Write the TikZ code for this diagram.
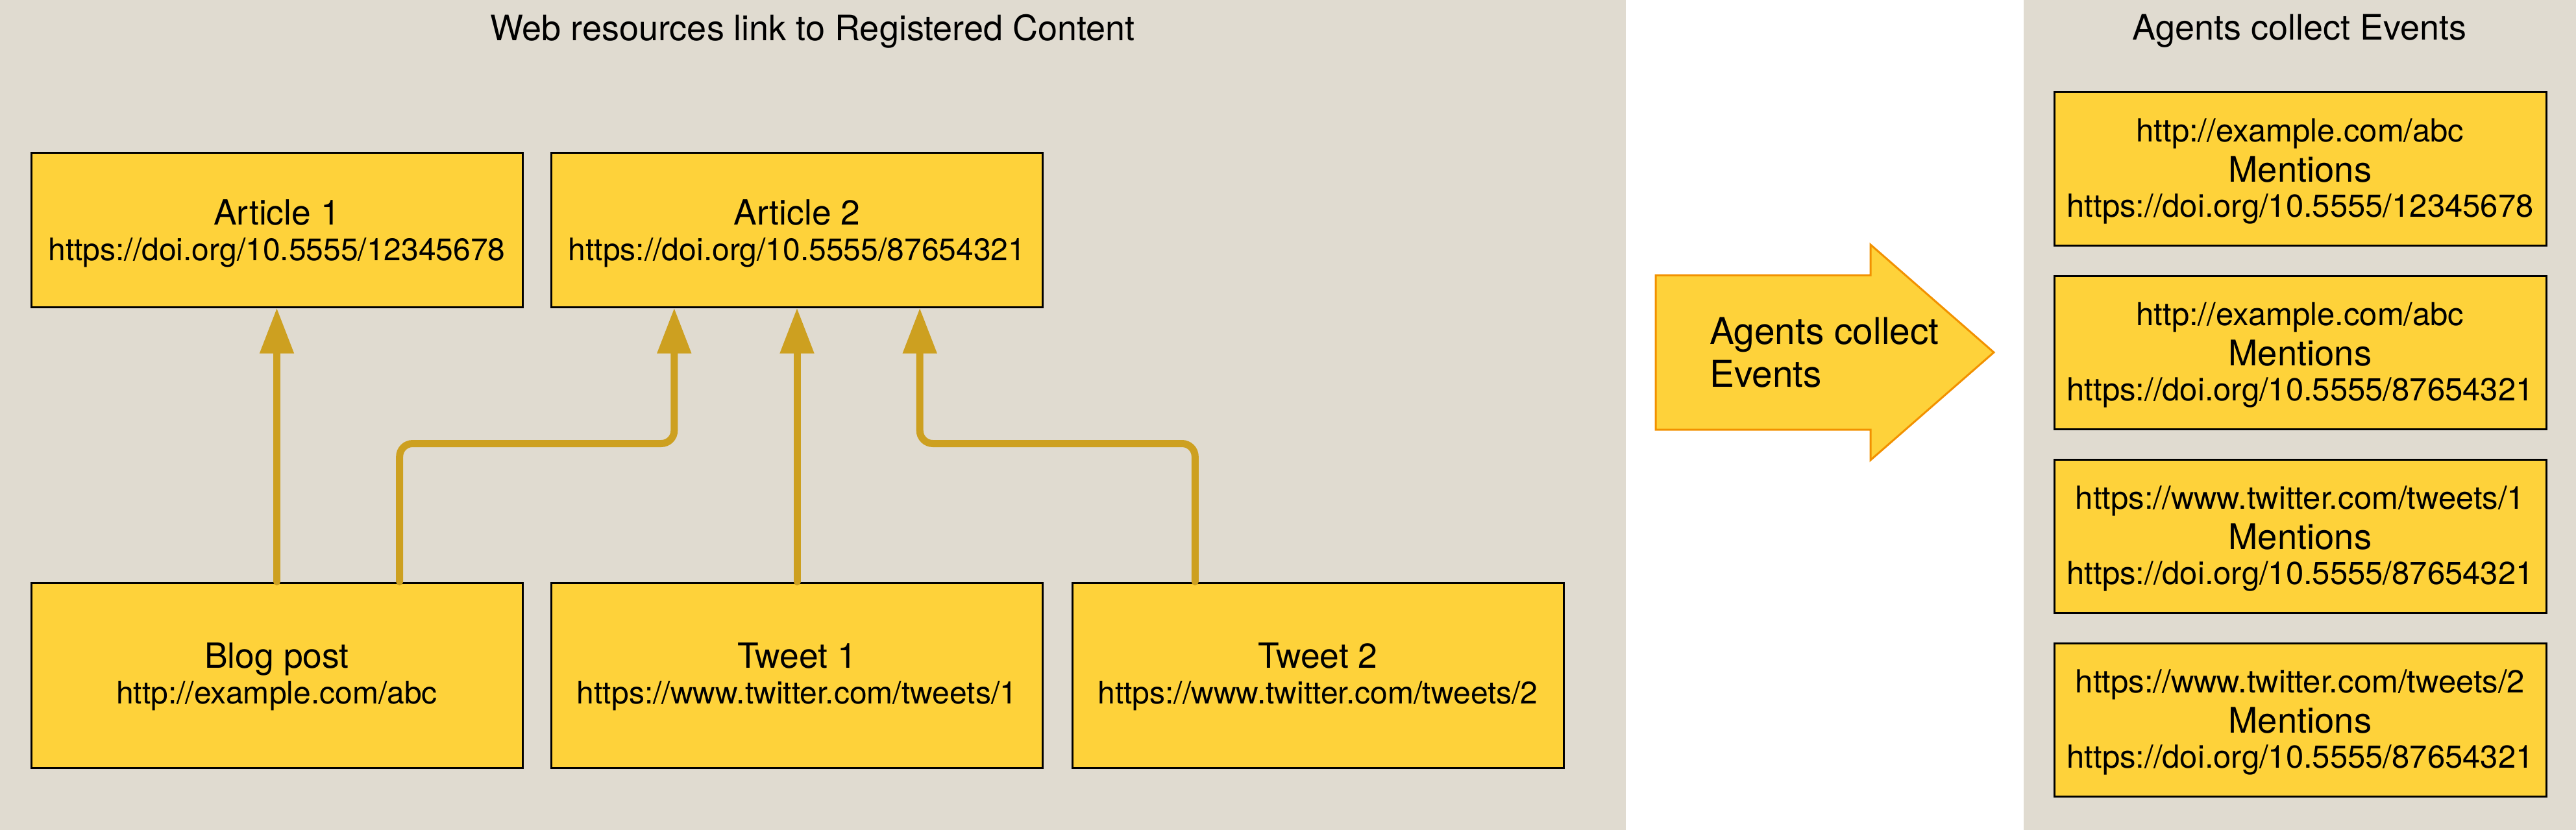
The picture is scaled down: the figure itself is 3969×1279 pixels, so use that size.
\documentclass[tikz,border=0pt]{standalone}
\usepackage{fontspec}
\setmainfont{TeX Gyre Heros}
\usetikzlibrary{arrows.meta,calc}
\definecolor{panelbg}{HTML}{E0DBD0}
\definecolor{boxfill}{HTML}{FED23A}
\definecolor{linkcol}{HTML}{CDA020}
\definecolor{arrowedge}{HTML}{F29100}
\newcommand\boxhead[2][25pt]{{\fontsize{26.7}{27}\selectfont\rule{0pt}{#1}#2}}
\newcommand\evthead[1]{\rule{0pt}{22pt}#1}
\newcommand\mentword{{\fontsize{27.2}{27}\selectfont Mentions}}
\begin{document}
\begin{tikzpicture}[x=0.5pt,y=-0.5pt,
  box/.style={draw=black, line width=1.5pt, fill=boxfill, align=center, inner sep=0pt,
    minimum width=378.5pt, font=\fontsize{24}{27.5}\selectfont},
  toprow/.style={box, minimum height=119pt},
  botrow/.style={box, minimum height=142.5pt},
  evt/.style={box, minimum height=118pt, minimum width=379pt, font=\fontsize{24.5}{27}\selectfont},
  link/.style={draw=linkcol, line width=5.5pt, line cap=round, rounded corners=10pt,
    -{Triangle[length=35pt,width=25pt]}},
  paneltitle/.style={font=\fontsize{27}{30}\selectfont, inner sep=0pt},
  bigarrow/.style={draw=arrowedge, line width=1.5pt, fill=boxfill, line join=miter}]
\useasboundingbox (0,0) rectangle (3969,1279);
% panels
\fill[panelbg] (0,0) rectangle (2505,1279);
\fill[panelbg] (3118,0) rectangle (3969,1279);
\node[paneltitle] (t1) at (1252,48) {Web resources link to Registered Content};
\node[paneltitle] (t2) at (3543,48) {Agents collect Events};
% left boxes
\node[toprow] (a1) at (426.5,354) {\boxhead{Article 1}\\https://doi.org/10.5555/12345678};
\node[toprow] (a2) at (1228,354) {\boxhead{Article 2}\\https://doi.org/10.5555/87654321};
\node[botrow] (blog) at (426.5,1040.5) {\boxhead[22pt]{Blog post}\\http://example.com/abc};
\node[botrow] (tw1) at (1228,1040.5) {\boxhead[22pt]{Tweet 1}\\https://www.twitter.com/tweets/1};
\node[botrow] (tw2) at (2030.5,1040.5) {\boxhead[22pt]{Tweet 2}\\https://www.twitter.com/tweets/2};
% connectors
\draw[link] (blog.north) -- (a1.south);
\draw[link] ([xshift=94.6pt]blog.north) -- ++(0,-213) -| ([xshift=-94.6pt]a2.south);
\draw[link] (tw1.north) -- (a2.south);
\draw[link] ([xshift=-94.6pt]tw2.north) -- ++(0,-213) -| ([xshift=94.6pt]a2.south);
% big arrow
\draw[bigarrow] (2551,424) -- (2882,424) -- (2882,377) -- (3072,543) -- (2882,709) -- (2882,662) -- (2551,662) -- cycle;
\node[anchor=west, align=left, inner sep=0pt, font=\fontsize{28.4}{33}\selectfont] (agents) at (2634,543) {Agents collect\\Events};
% right boxes
\node[evt] (e1) at (3544,260) {\evthead{http://example.com/abc}\\[4pt]\mentword\\https://doi.org/10.5555/12345678};
\node[evt] (e2) at (3544,543) {\evthead{http://example.com/abc}\\[4pt]\mentword\\https://doi.org/10.5555/87654321};
\node[evt] (e3) at (3544,826) {\evthead{https://www.twitter.com/tweets/1}\\[4pt]\mentword\\https://doi.org/10.5555/87654321};
\node[evt] (e4) at (3544,1109) {\evthead{https://www.twitter.com/tweets/2}\\[4pt]\mentword\\https://doi.org/10.5555/87654321};
\end{tikzpicture}
\end{document}
